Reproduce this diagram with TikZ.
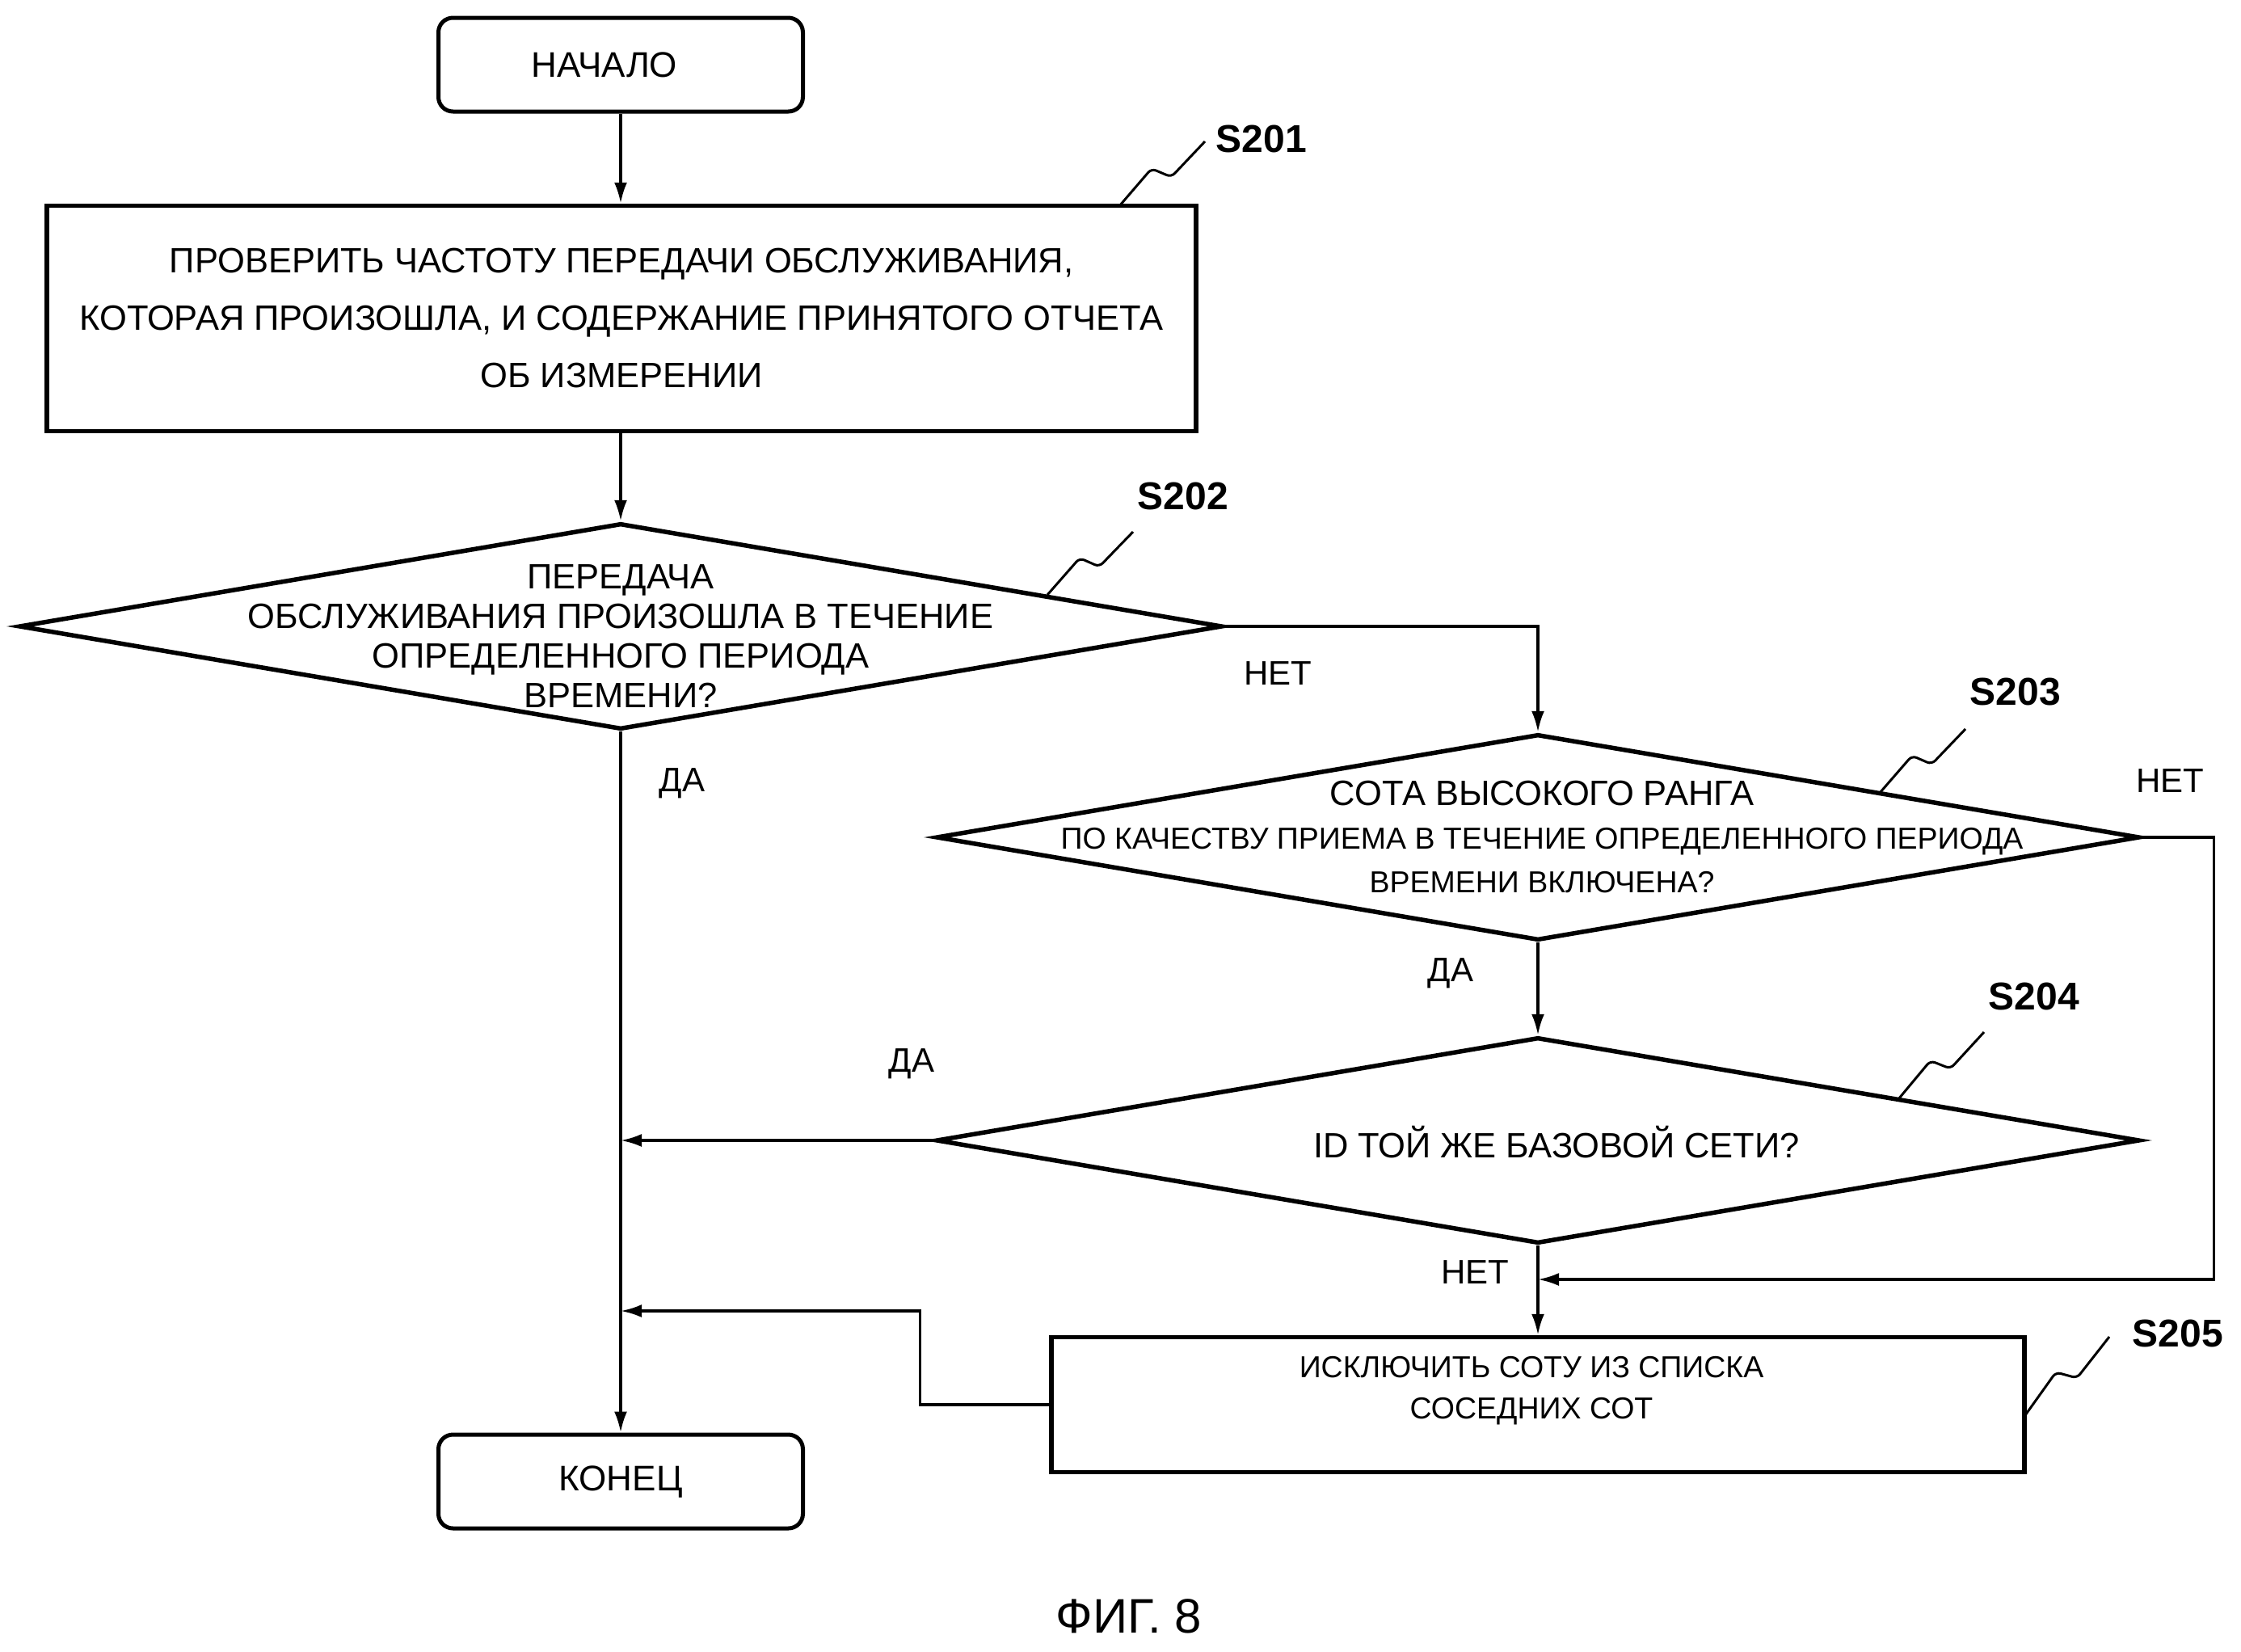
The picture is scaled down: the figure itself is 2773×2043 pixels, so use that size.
\documentclass[tikz,border=0pt]{standalone}
\usepackage{fontspec}
\setmainfont{Liberation Sans}
\usetikzlibrary{arrows.meta,shapes.geometric,calc}
\newcommand{\squig}[2]{\draw[leader] (#1) -- ($(#1)!0.45!(#2)!13pt!90:(#2)$) -- ($(#1)!0.55!(#2)!10pt!-90:(#2)$) -- (#2);}
\begin{document}
\begin{tikzpicture}[x=1pt,y=-1pt,
 box/.style={draw, line width=5.5pt, rectangle, inner sep=0pt, align=center},
 term/.style={draw, line width=5pt, rounded corners=18pt, minimum width=451pt, minimum height=116pt, inner sep=0pt, font=\fontsize{44}{44}\selectfont},
 dec/.style={draw, diamond, line width=5.5pt, inner sep=0pt, minimum width=1489pt, minimum height=255pt},
 conn/.style={line width=3.5pt, -{Latex[length=26pt,width=16pt]}},
 txt/.style={font=\fontsize{43.5}{49}\selectfont, align=center, inner sep=0pt},
 stxt/.style={font=\fontsize{37.5}{51}\selectfont, align=center, inner sep=0pt},
 steplbl/.style={font=\bfseries\fontsize{48}{48}\selectfont, inner sep=0pt},
 yn/.style={font=\fontsize{42}{42}\selectfont, inner sep=0pt},
 leader/.style={line width=3pt, rounded corners=6pt}]
\fill[white] (0,0) rectangle (2773,2043);
\useasboundingbox (0,0) rectangle (2773,2043);

% nodes
\node[term] (start) at (768,80) {НАЧАЛО\hspace*{40pt}};
\node[box, minimum width=1422pt, minimum height=279pt, font=\fontsize{43.5}{71}\selectfont] (s201) at (769,394)
 {ПРОВЕРИТЬ ЧАСТОТУ ПЕРЕДАЧИ ОБСЛУЖИВАНИЯ,\\КОТОРАЯ ПРОИЗОШЛА, И СОДЕРЖАНИЕ ПРИНЯТОГО ОТЧЕТА\\ОБ ИЗМЕРЕНИИ};

\node[dec] (d202) at (768,775) {};
\node[txt] (t202) at (768,787) {ПЕРЕДАЧА\\ОБСЛУЖИВАНИЯ ПРОИЗОШЛА В ТЕЧЕНИЕ\\ОПРЕДЕЛЕННОГО ПЕРИОДА\hspace*{45pt}\\ВРЕМЕНИ?};

\node[dec] (d203) at (1903,1036) {};
\node[stxt, font=\fontsize{37.5}{54}\selectfont] (t203) at (1908,1035)
 {{\fontsize{43.5}{54}\selectfont СОТА ВЫСОКОГО РАНГА}\\ПО КАЧЕСТВУ ПРИЕМА В ТЕЧЕНИЕ ОПРЕДЕЛЕННОГО ПЕРИОДА\\ВРЕМЕНИ ВКЛЮЧЕНА?};

\node[dec] (d204) at (1903,1411) {};
\node[txt] (t204) at (1926,1413) {ID ТОЙ ЖЕ БАЗОВОЙ СЕТИ?};

\node[box, minimum width=1204pt, minimum height=167pt] (s205) at (1903,1738) {};
\node[stxt] (t205) at (1895,1721) {ИСКЛЮЧИТЬ СОТУ ИЗ СПИСКА\\СОСЕДНИХ СОТ};

\node[term] (end) at (768,1833) {КОНЕЦ};
\node[font=\fontsize{60}{60}\selectfont, inner sep=0pt] (fig) at (1397,2000) {ФИГ. 8};

% helper coordinates
\coordinate (nj) at (1903,1583);
\coordinate (m2) at (768,1622);

% connectors
\draw[conn] (start.south) -- (start.south |- s201.north);
\draw[conn] (s201.south -| d202.north) -- (d202.north);
\draw[conn] (d202.east) -| (d203.north);
\draw[conn] (d202.south) -- (d202.south |- end.north);
\draw[conn] (d203.south) -- (d204.north);
\draw[conn] (d204.west) -- (d204.west -| d202.south);
\draw[conn] (d204.south) -- (s205.north);
\draw[conn] (d203.east) -- ++(89,0) |- (nj);
\draw[conn] (s205.west) -- ++(-160,0) |- (m2);

% yes/no labels
\node[yn] (n202) at (1581,833) {НЕТ};
\node[yn] (y202) at (844,969) {ДА};
\node[yn] (n203) at (2685,966) {НЕТ};
\node[yn] (y203) at (1795,1204) {ДА};
\node[yn] (y204) at (1128,1316) {ДА};
\node[yn] (n204) at (1825,1574) {НЕТ};

% step labels and leaders
\node[steplbl] (l201) at (1561,172) {S201};
\node[steplbl] (l202) at (1464,614) {S202};
\node[steplbl] (l203) at (2494,856) {S203};
\node[steplbl] (l204) at (2517,1233) {S204};
\node[steplbl] (l205) at (2695,1650) {S205};

\coordinate (a201) at (1385,255);  \coordinate (b201) at (1491,175);
\coordinate (a202) at (1296,736);  \coordinate (b202) at (1402,658);
\coordinate (a203) at (2326,981);  \coordinate (b203) at (2432,902);
\coordinate (a204) at (2349,1360); \coordinate (b204) at (2455,1277);
\coordinate (a205) at (2506,1751); \coordinate (b205) at (2610,1654);
\squig{a201}{b201}
\squig{a202}{b202}
\squig{a203}{b203}
\squig{a204}{b204}
\squig{a205}{b205}
\end{tikzpicture}
\end{document}
